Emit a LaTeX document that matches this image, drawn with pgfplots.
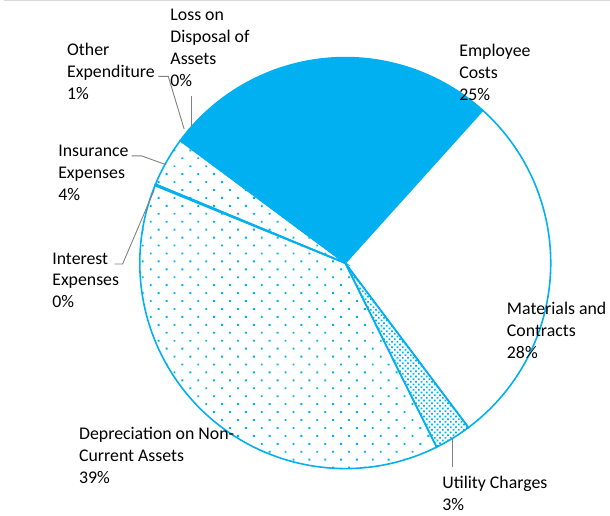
\documentclass[border=0pt]{standalone}
\usepackage{pgfplots}
\pgfplotsset{compat=1.18}
\usepackage{pgfplotstable}
\usetikzlibrary{patterns.meta}
\usepackage{fontspec}
\setmainfont{Carlito}

\definecolor{xlblue}{HTML}{00B0F0}
\definecolor{leader}{HTML}{808080}

% slices in clockwise order, values in percent
\pgfplotstableread{
value fill
25.4 solid
28.1 white
2.9  dense
38.5 dots
0.1  dots
3.9  dots
1.0  solid
0.1  solid
}\piedata

\tikzset{
  pie-solid/.style={fill=xlblue, draw=xlblue, line width=1.6bp},
  pie-white/.style={fill=white, draw=xlblue, line width=1.6bp},
  pie-dots/.style={pattern={Dots[distance=11.3bp, radius=1.35bp, angle=45]},
    pattern color=xlblue, draw=xlblue, line width=1.6bp},
  pie-dense/.style={pattern={Dots[distance=3.8bp, radius=1.25bp, angle=45]},
    pattern color=xlblue, draw=xlblue, line width=1.6bp},
  lbl/.style={anchor=base west, inner sep=0pt, font=\fontsize{18}{22}\selectfont},
  lead/.style={draw=leader, line width=0.9bp},
}

\begin{document}
% cumulative angles, starting at 139.44 deg and going clockwise
\pgfmathsetmacro\acc{139.44}
\pgfplotsforeachungrouped \i in {0,...,7}{%
  \pgfplotstablegetelem{\i}{value}\of\piedata
  \pgfmathsetmacro\nxt{\acc-3.6*\pgfplotsretval}%
  \expandafter\xdef\csname sa\i\endcsname{\acc}%
  \expandafter\xdef\csname ea\i\endcsname{\nxt}%
  \pgfplotstablegetelem{\i}{fill}\of\piedata
  \expandafter\xdef\csname st\i\endcsname{\pgfplotsretval}%
  \global\let\acc\nxt
}

\begin{tikzpicture}
\useasboundingbox (0,0) rectangle (610bp,519bp);
\begin{axis}[
  hide axis, scale only axis,
  width=610bp, height=519bp,
  xmin=0, xmax=610, ymin=0, ymax=519,
  clip=false,
]
\draw[draw=black!15, line width=1bp] (axis cs:0,518) -- (axis cs:610,518);

\pgfplotsinvokeforeach{0,...,7}{%
  \edef\temp{\noexpand\path[pie-\csname st#1\endcsname]
    (axis cs:343.3,254) -- ++(\csname sa#1\endcsname:207bp)
    arc[start angle=\csname sa#1\endcsname, end angle=\csname ea#1\endcsname, radius=207bp]
    -- cycle;}%
  \temp
}

% leader lines
\draw[lead] (axis cs:155,{519-77}) -- (axis cs:165,{519-77}) -- (axis cs:181,{519-130});
\draw[lead] (axis cs:188,{519-97}) -- (axis cs:188,{519-127});
\draw[lead] (axis cs:128,{519-157}) -- (axis cs:138,{519-157}) -- (axis cs:163,{519-166});
\draw[lead] (axis cs:111,{519-266}) -- (axis cs:119,{519-266}) -- (axis cs:151,{519-191});
\draw[lead] (axis cs:451,{519-442}) -- (axis cs:451,{519-470});

% labels
\node[lbl] at (axis cs:167,{519-21}) {Loss on};
\node[lbl] at (axis cs:167,{519-43}) {Disposal of};
\node[lbl] at (axis cs:167,{519-65}) {Assets};
\node[lbl] at (axis cs:167,{519-87}) {0\%};

\node[lbl] at (axis cs:63,{519-56}) {Other};
\node[lbl] at (axis cs:63,{519-78}) {Expenditure};
\node[lbl] at (axis cs:63,{519-100}) {1\%};

\node[lbl] at (axis cs:458,{519-57}) {Employee};
\node[lbl] at (axis cs:458,{519-79}) {Costs};
\node[lbl] at (axis cs:458,{519-101}) {25\%};

\node[lbl] at (axis cs:54,{519-158}) {Insurance};
\node[lbl] at (axis cs:54,{519-180}) {Expenses};
\node[lbl] at (axis cs:54,{519-202}) {4\%};

\node[lbl] at (axis cs:48,{519-266}) {Interest};
\node[lbl] at (axis cs:48,{519-288}) {Expenses};
\node[lbl] at (axis cs:48,{519-310}) {0\%};

\node[lbl] at (axis cs:506,{519-317}) {Materials and};
\node[lbl] at (axis cs:506,{519-339}) {Contracts};
\node[lbl] at (axis cs:506,{519-361}) {28\%};

\node[lbl] at (axis cs:75,{519-443}) {Depreciation on Non-};
\node[lbl] at (axis cs:75,{519-465}) {Current Assets};
\node[lbl] at (axis cs:75,{519-487}) {39\%};

\node[lbl] at (axis cs:441,{519-492}) {Utility Charges};
\node[lbl] at (axis cs:441,{519-514}) {3\%};
\end{axis}
\end{tikzpicture}
\end{document}
